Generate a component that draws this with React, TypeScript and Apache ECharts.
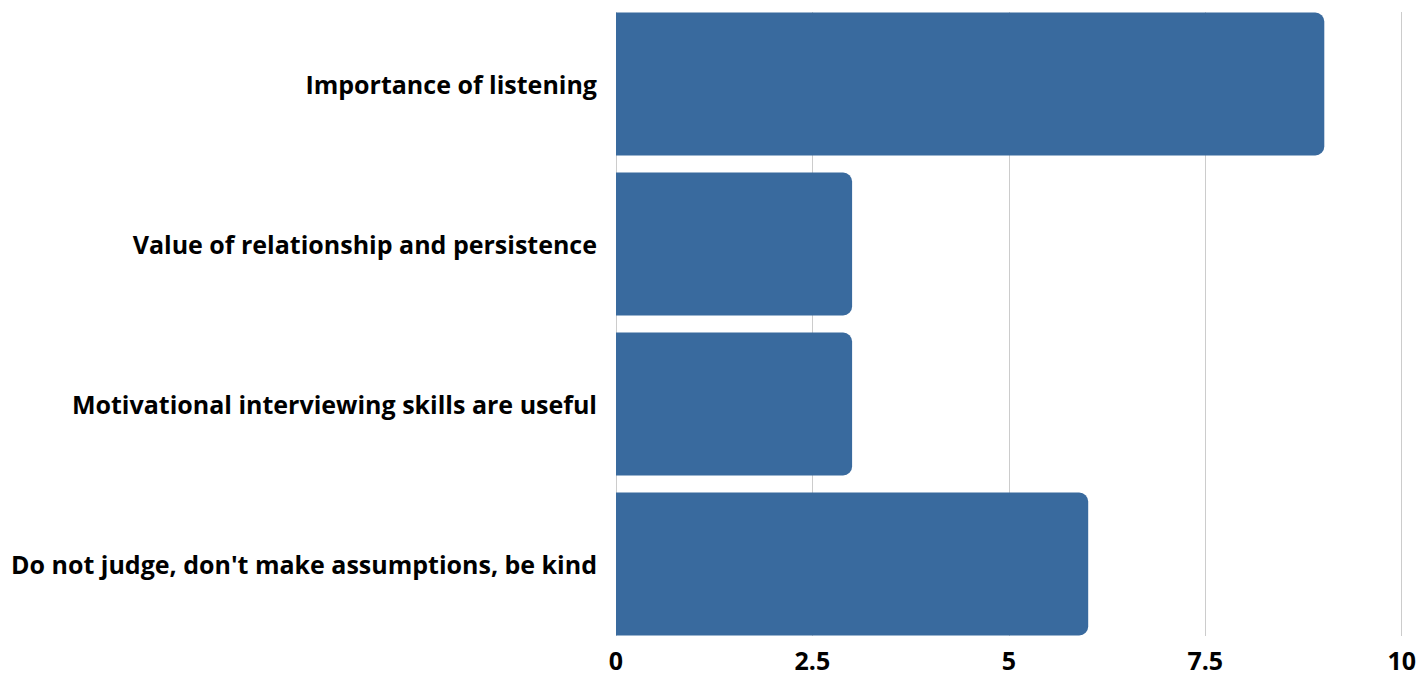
import React, { useEffect, useRef } from "react";
import * as echarts from "echarts";

const categories = [
  "Importance of listening",
  "Value of relationship and persistence",
  "Motivational interviewing skills are useful",
  "Do not judge, don't make assumptions, be kind",
];
const counts = [9, 3, 3, 6];
const axisMax = 10;
const tickStep = 2.5;

export default function App() {
  const ref = useRef<HTMLDivElement>(null);

  useEffect(() => {
    if (!ref.current) return;
    const chart = echarts.init(ref.current, undefined, { renderer: "svg" });
    const font = "'Open Sans', 'Noto Sans', sans-serif";
    chart.setOption({
      animation: false,
      grid: [
        // bars sit in this grid
        { left: 616, right: 16, top: 4, bottom: 33 },
        // value axis and vertical gridlines
        { left: 616, right: 16, top: 12, bottom: 41 },
      ],
      xAxis: [
        {
          gridIndex: 0,
          type: "value",
          min: 0,
          max: axisMax,
          show: false,
        },
        {
          gridIndex: 1,
          type: "value",
          min: 0,
          max: axisMax,
          interval: tickStep,
          axisLine: { show: false },
          axisTick: { show: false },
          splitLine: { show: true, lineStyle: { color: "#cccccc", width: 1 } },
          axisLabel: {
            color: "#000",
            fontFamily: font,
            fontWeight: 700,
            fontSize: 25,
            lineHeight: 22,
            margin: 13,
          },
        },
      ],
      yAxis: [
        {
          gridIndex: 0,
          type: "category",
          data: categories,
          inverse: true,
          axisLine: { show: false },
          axisTick: { show: false },
          splitLine: { show: false },
          axisLabel: {
            color: "#000",
            fontFamily: font,
            fontWeight: 700,
            fontSize: 25,
            margin: 19,
          },
        },
        {
          gridIndex: 1,
          type: "value",
          show: false,
        },
      ],
      series: [
        {
          type: "bar",
          xAxisIndex: 0,
          yAxisIndex: 0,
          data: counts,
          barWidth: 143,
          itemStyle: { color: "#396A9E", borderRadius: [0, 9, 9, 0] },
          z: 3,
        },
      ],
    });
    return () => chart.dispose();
  }, []);

  return (
    <div
      ref={ref}
      style={{ position: "absolute", left: 0, top: 0, width: 1419, height: 677 }}
    />
  );
}
